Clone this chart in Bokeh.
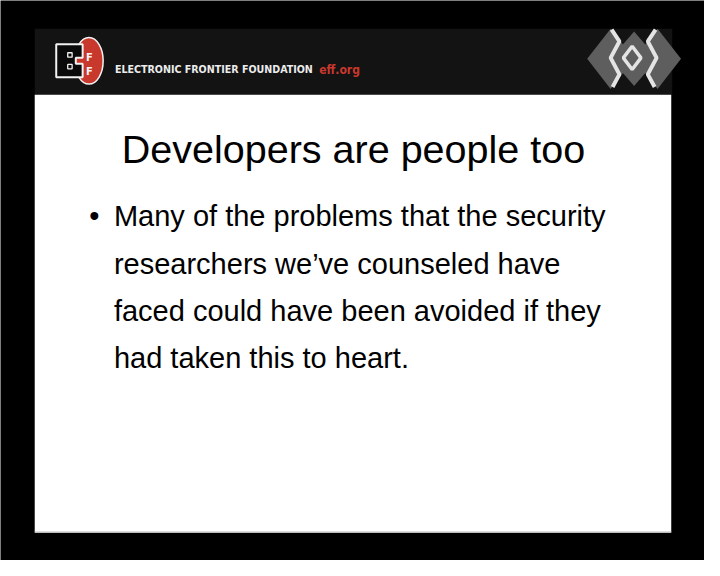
from bokeh.plotting import figure
from bokeh.models import Range1d
from bokeh.core.properties import value
from bokeh.embed import file_html
from bokeh.resources import INLINE

# slide content
HEADER_TEXT = ["ELECTRONIC FRONTIER FOUNDATION"]
HEADER_URL = ["eff.org"]
TITLE = ["Developers are people too"]
BULLET_LINES = [
    "Many of the problems that the security",
    "researchers we\u2019ve counseled have",
    "faced could have been avoided if they",
    "had taken this to heart.",
]

FONT = value("Liberation Sans")
HEAD_FONT = value("DejaVu Sans Condensed")
EFF_RED = "#c9382c"
LOGO_WHITE = "#e4e4e4"

# the 720x576 frame is drawn in its own pixel units, scaled into the figure
p = figure(width=704, height=560, x_range=Range1d(0, 720), y_range=Range1d(576, 0),
           output_backend="svg", toolbar_location=None, min_border=0)
p.axis.visible = False
p.grid.visible = False
p.outline_line_color = None
p.background_fill_color = "#000000"
p.border_fill_color = "#000000"

# header bar and white slide
p.quad(left=[35], right=[687], top=[29], bottom=[97], fill_color="#131313", line_color=None)
p.quad(left=[35], right=[686], top=[97], bottom=[547], fill_color="#ffffff", line_color=None)
p.segment(x0=[35], y0=[547], x1=[686], y1=[547], line_color="#bdbdbd", line_width=1.5)

# EFF logo
p.ellipse(x=[90.5], y=[62], width=[29], height=[48], fill_color=EFF_RED,
          line_color="#f2f2f2", line_width=1.5)
p.patch(x=[57, 84, 84, 77, 77, 84, 84, 57],
        y=[45, 45, 59, 59, 65, 65, 79, 79],
        fill_color="#0a0a0a", line_color="#f2f2f2", line_width=2)
p.rect(x=[71, 71], y=[56, 68], width=4.5, height=4.5, fill_color=None,
       line_color="#f2f2f2", line_width=1.3)
p.text(x=[91, 91], y=[59, 73], text=["F", "F"], text_font=HEAD_FONT, text_font_style="bold",
       text_font_size="11px", text_color="#f2f2f2", text_align="center",
       text_baseline="alphabetic")

# foundation name
p.text(x=[117], y=[70], text=HEADER_TEXT, text_font=HEAD_FONT, text_font_style="bold",
       text_font_size="10.6px", text_color="#ececec", text_baseline="alphabetic")
p.text(x=[326], y=[71], text=HEADER_URL, text_font=HEAD_FONT, text_font_style="bold",
       text_font_size="12px", text_color=EFF_RED, text_baseline="alphabetic")

# right logo: three overlapping diamonds with light zigzags
for cx, top, bot in ((624, 29, 91), (648, 32, 88), (672, 29, 91)):
    p.patch(x=[cx - 24, cx, cx + 24, cx], y=[60, top, 60, bot],
            fill_color="#5e5e5e", line_color=None)
p.line(x=[625, 633, 624, 633, 626], y=[30, 42, 59, 76, 89],
       line_color=LOGO_WHITE, line_width=4)
p.line(x=[670, 662, 671, 662, 669], y=[30, 42, 59, 76, 89],
       line_color=LOGO_WHITE, line_width=4)
p.patch(x=[637, 646, 655, 646], y=[59, 47, 59, 71], fill_color=None,
        line_color=LOGO_WHITE, line_width=3.5)

# title
p.text(x=[361], y=[153], text=TITLE, text_font=FONT, text_font_size="39.5px",
       text_color="#000000", text_align="center", text_baseline="alphabetic")

# bullet text
baselines = [222 + 48.7 * i for i in range(len(BULLET_LINES))]
p.text(x=[116] * len(BULLET_LINES), y=baselines, text=BULLET_LINES, text_font=FONT,
       text_font_size="29px", text_color="#000000", text_baseline="alphabetic")
p.text(x=[96], y=[222], text=["\u2022"], text_font=FONT, text_font_size="29px",
       text_color="#000000", text_align="center", text_baseline="alphabetic")

open("out.html", "w").write(file_html(p, INLINE))
